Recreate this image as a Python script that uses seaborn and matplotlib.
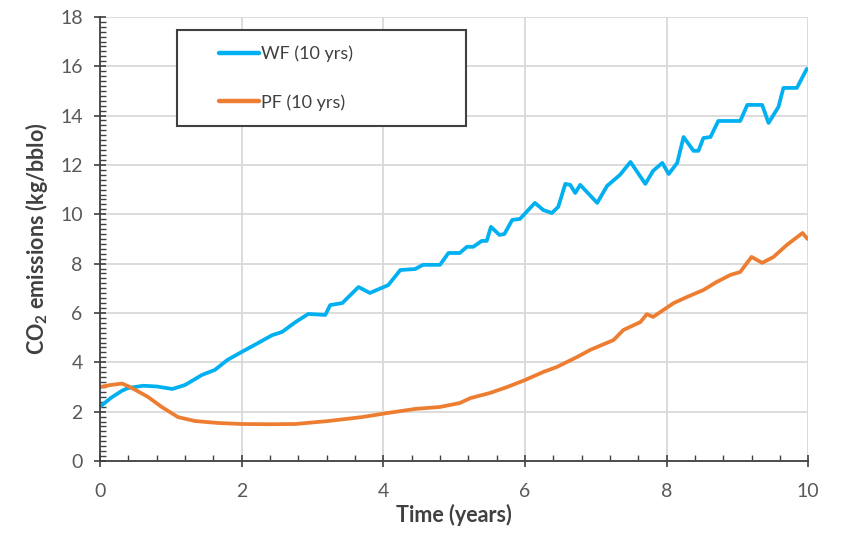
import numpy as np
import pandas as pd
import seaborn as sns
import matplotlib
matplotlib.use('Agg')
import matplotlib.pyplot as plt
from matplotlib.patches import Rectangle
from matplotlib.ticker import MultipleLocator

# values
wf_time = [0.0, 0.15, 0.31, 0.4, 0.61, 0.8, 1.02, 1.2, 1.44, 1.62, 1.8, 2.0,
           2.23, 2.43, 2.57, 2.76, 2.94, 3.18, 3.25, 3.42, 3.65, 3.81, 4.07,
           4.24, 4.45, 4.56, 4.8, 4.92, 5.08, 5.18, 5.27, 5.39, 5.46, 5.52,
           5.64, 5.71, 5.82, 5.93, 6.14, 6.26, 6.38, 6.47, 6.57, 6.64, 6.71,
           6.78, 7.02, 7.16, 7.34, 7.49, 7.7, 7.81, 7.94, 8.03, 8.15, 8.24,
           8.38, 8.45, 8.52, 8.62, 8.73, 9.04, 9.14, 9.35, 9.44, 9.58, 9.65,
           9.84, 9.98]
wf_co2 = [2.2, 2.55, 2.85, 2.96, 3.05, 3.02, 2.92, 3.08, 3.49, 3.69, 4.1, 4.42,
          4.78, 5.1, 5.23, 5.63, 5.96, 5.92, 6.32, 6.4, 7.05, 6.81, 7.13,
          7.74, 7.78, 7.95, 7.95, 8.43, 8.43, 8.68, 8.68, 8.92, 8.92, 9.49,
          9.16, 9.2, 9.77, 9.81, 10.46, 10.17, 10.05, 10.3, 11.23, 11.19,
          10.86, 11.19, 10.46, 11.15, 11.59, 12.12, 11.23, 11.76, 12.08,
          11.63, 12.08, 13.13, 12.57, 12.57, 13.09, 13.13, 13.78, 13.78,
          14.43, 14.43, 13.7, 14.35, 15.12, 15.12, 15.89]

pf_time = [0.0, 0.15, 0.31, 0.42, 0.55, 0.68, 0.87, 1.1, 1.34, 1.67, 2.0,
           2.4, 2.76, 3.22, 3.7, 4.07, 4.45, 4.8, 5.08, 5.23, 5.51, 5.75, 6.0,
           6.26, 6.45, 6.74, 6.92, 7.25, 7.39, 7.63, 7.72, 7.81, 8.1, 8.29,
           8.52, 8.71, 8.9, 9.04, 9.2, 9.35, 9.51, 9.7, 9.92, 9.99]
pf_co2 = [3.0, 3.08, 3.14, 3.0, 2.8, 2.59, 2.19, 1.78, 1.62, 1.54, 1.5,
          1.49, 1.5, 1.62, 1.78, 1.95, 2.11, 2.19, 2.35, 2.55, 2.76, 3.0,
          3.28, 3.61, 3.81, 4.22, 4.5, 4.9, 5.31, 5.63, 5.95, 5.84, 6.4, 6.65,
          6.93, 7.26, 7.54, 7.66, 8.27, 8.03, 8.27, 8.76, 9.24, 9.0]

series = ['WF (10 yrs)', 'PF (10 yrs)']
colors = ['#00B0F0', '#ED7D31']

df = pd.concat([
    pd.DataFrame({'time': wf_time, 'co2': wf_co2, 'case': series[0]}),
    pd.DataFrame({'time': pf_time, 'co2': pf_co2, 'case': series[1]}),
])

sns.set_style('white')
plt.rcParams['font.family'] = ['Lato', 'DejaVu Sans']
plt.rcParams['mathtext.fontset'] = 'custom'
plt.rcParams['mathtext.bf'] = 'Lato:bold'
plt.rcParams['mathtext.rm'] = 'Lato'

fig = plt.figure(figsize=(8.41, 5.43), dpi=100)
ax = fig.add_axes([0.119, 0.151, 0.842, 0.818])

sns.lineplot(data=df, x='time', y='co2', hue='case', palette=colors,
             linewidth=2.7, ax=ax, legend=False)

ax.set_xlim(0, 10)
ax.set_ylim(0, 18)
ax.xaxis.set_major_locator(MultipleLocator(2))
ax.xaxis.set_minor_locator(MultipleLocator(0.4))
ax.yaxis.set_major_locator(MultipleLocator(2))
ax.yaxis.set_minor_locator(MultipleLocator(0.2))
ax.grid(True, which='major', color='#d9d9d9', linewidth=1.3)
ax.set_axisbelow(True)
for s in ['top', 'right']:
    ax.spines[s].set_visible(False)
for s in ['left', 'bottom']:
    ax.spines[s].set_color('#404040')
    ax.spines[s].set_linewidth(1.3)

ax.tick_params(which='both', bottom=True, left=True)
ax.tick_params(which='major', direction='inout', length=9, width=1.2,
               color='#404040', labelsize=14, labelcolor='#595959')
ax.tick_params(axis='x', which='major', pad=11)
ax.tick_params(axis='y', which='major', pad=8)
ax.tick_params(which='minor', direction='in', length=4, width=1.0,
               color='#404040')

ax.set_xlabel('Time (years)', fontsize=15.5, fontweight='bold',
              color='#404040', labelpad=3)
ax.set_ylabel(r'CO$_\mathbf{2}$ emissions (kg/bblo)', fontsize=15.5,
              fontweight='bold', color='#404040', labelpad=7)

# legend box
ax.add_patch(Rectangle((0.109, 0.755), 0.408, 0.216, transform=ax.transAxes,
                       facecolor='white', edgecolor='#404040', linewidth=1.5,
                       zorder=5, clip_on=False))
handles = [plt.Line2D([], [], color=c, linewidth=3.2) for c in colors]
leg = ax.legend(handles, series, loc='upper left',
                bbox_to_anchor=(0.148, 0.967), frameon=False, fontsize=13,
                labelspacing=1.75, handlelength=2.2, handletextpad=0.12,
                borderpad=0.3, labelcolor='#404040')
leg.set_zorder(6)

fig.savefig('out.png', dpi=100)
